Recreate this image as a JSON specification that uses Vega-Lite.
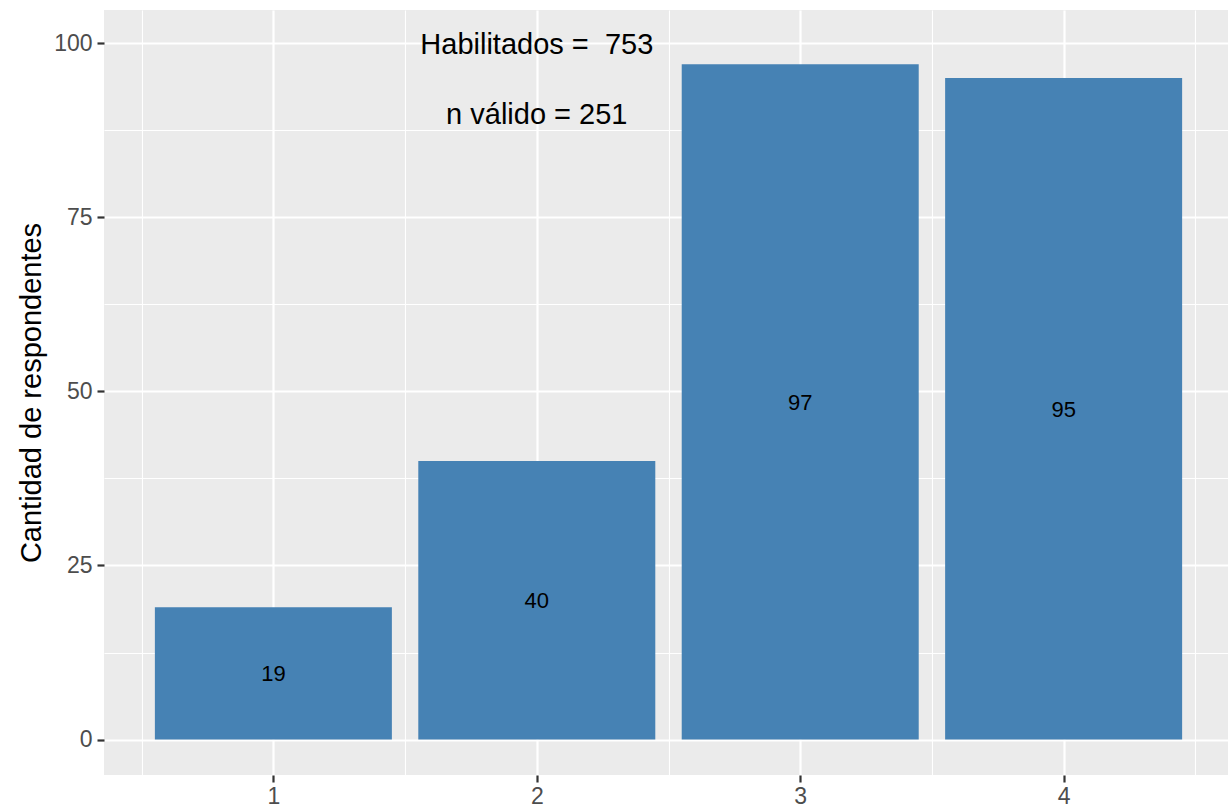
{
  "$schema": "https://vega.github.io/schema/vega-lite/v6.json",
  "width": 1124,
  "height": 765,
  "autosize": {"type": "none"},
  "padding": {"left": 104, "top": 10, "right": 0, "bottom": 35},
  "background": "white",
  "config": {
    "view": {"fill": "#EBEBEB", "stroke": null},
    "font": "Liberation Sans"
  },
  "datasets": {
    "bars": [
      {"categoria": 1, "n": 19},
      {"categoria": 2, "n": 40},
      {"categoria": 3, "n": 97},
      {"categoria": 4, "n": 95}
    ],
    "notes": [
      {"categoria": 2, "pos": 100, "texto": "Habilitados = \u00a0753"},
      {"categoria": 2, "pos": 90, "texto": "n válido = 251"}
    ]
  },
  "resolve": {"scale": {"y": "independent"}, "axis": {"y": "independent"}},
  "layer": [
    {
      "data": {"name": "bars"},
      "mark": {"type": "bar", "color": "#4682B4", "width": 237},
      "encoding": {
        "x": {
          "field": "categoria",
          "type": "quantitative",
          "scale": {"domain": [0.357, 4.624], "nice": false, "zero": false, "padding": 0},
          "axis": {
            "title": null,
            "orient": "bottom",
            "values": [0.5, 1, 1.5, 2, 2.5, 3, 3.5, 4, 4.5],
            "labelExpr": "datum.value % 1 === 0 ? format(datum.value, 'd') : ''",
            "labelFontSize": 23,
            "labelColor": "#4D4D4D",
            "labelPadding": 3,
            "labelOverlap": false,
            "labelFlush": false,
            "labelBound": false,
            "domain": false,
            "tickSize": 7,
            "tickWidth": 2.2,
            "tickColor": {"condition": {"test": "datum.value % 1 === 0", "value": "#333333"}, "value": "transparent"},
            "grid": true,
            "gridColor": "white",
            "gridWidth": {"condition": {"test": "datum.value % 1 === 0", "value": 2.2}, "value": 1.1}
          }
        },
        "y": {
          "field": "n",
          "type": "quantitative",
          "scale": {"domain": [-5.09, 104.78], "nice": false, "zero": false, "padding": 0},
          "axis": {
            "title": "Cantidad de respondentes",
            "titleFontSize": 29,
            "titleFontWeight": "normal",
            "titleColor": "black",
            "titlePadding": 7,
            "values": [0, 12.5, 25, 37.5, 50, 62.5, 75, 87.5, 100],
            "labelExpr": "datum.value % 25 === 0 ? format(datum.value, 'd') : ''",
            "labelFontSize": 23,
            "labelColor": "#4D4D4D",
            "labelPadding": 5,
            "labelOverlap": false,
            "labelFlush": false,
            "labelBound": false,
            "domain": false,
            "tickSize": 7,
            "tickWidth": 2.2,
            "tickColor": {"condition": {"test": "datum.value % 25 === 0", "value": "#333333"}, "value": "transparent"},
            "grid": true,
            "gridColor": "white",
            "gridWidth": {"condition": {"test": "datum.value % 25 === 0", "value": 2.2}, "value": 1.1}
          }
        }
      }
    },
    {
      "data": {"name": "bars"},
      "mark": {"type": "text", "fontSize": 22, "color": "black", "baseline": "middle", "align": "center", "dy": 1},
      "encoding": {
        "x": {"field": "categoria", "type": "quantitative"},
        "y": {
          "field": "n",
          "type": "quantitative",
          "scale": {"domain": [-10.18, 209.56], "nice": false, "zero": false, "padding": 0},
          "axis": null
        },
        "text": {"field": "n", "type": "quantitative"}
      }
    },
    {
      "data": {"name": "notes"},
      "mark": {"type": "text", "fontSize": 29, "color": "black", "baseline": "middle", "align": "center", "dy": 2},
      "encoding": {
        "x": {"field": "categoria", "type": "quantitative"},
        "y": {
          "field": "pos",
          "type": "quantitative",
          "scale": {"domain": [-5.09, 104.78], "nice": false, "zero": false, "padding": 0},
          "axis": null
        },
        "text": {"field": "texto", "type": "nominal"}
      }
    }
  ]
}
